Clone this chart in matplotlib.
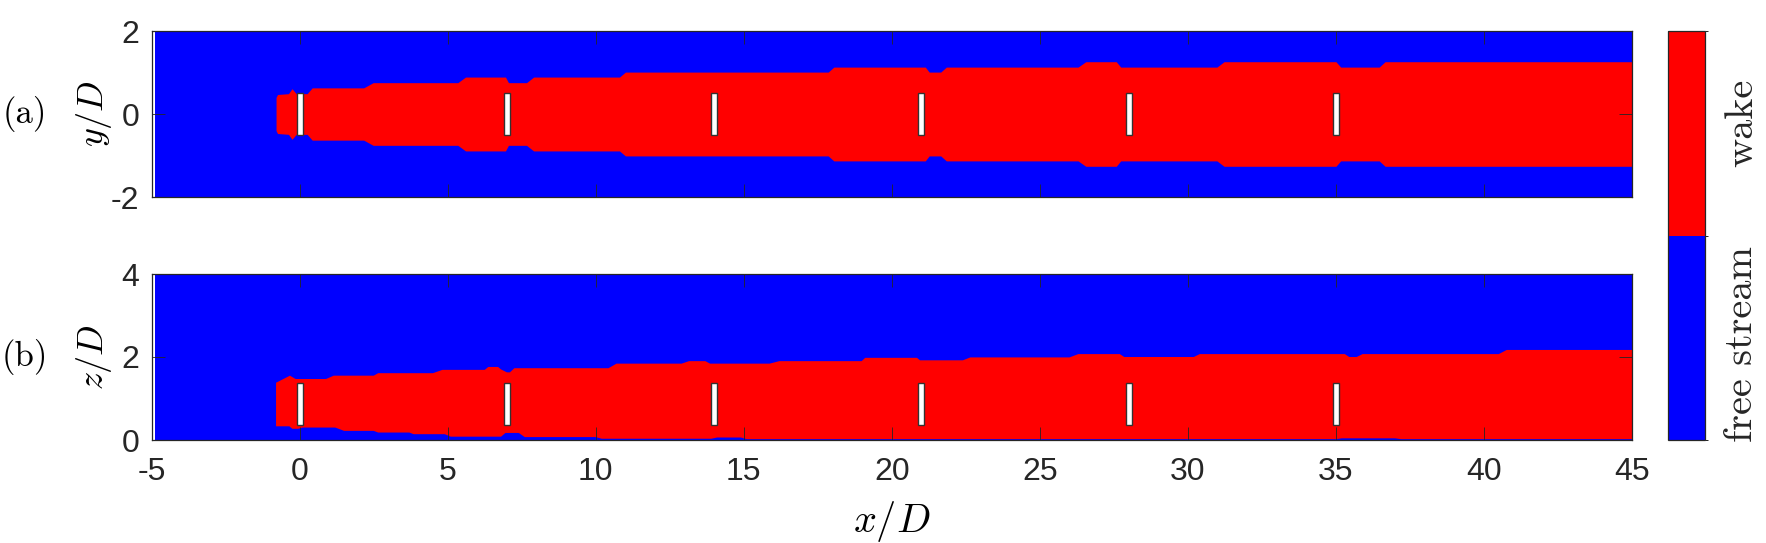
import numpy as np
import matplotlib
matplotlib.use("Agg")
import matplotlib as mpl
import matplotlib.pyplot as plt
from matplotlib.colors import ListedColormap, BoundaryNorm
from matplotlib.patches import Rectangle

plt.rcParams['mathtext.fontset'] = 'cm'
plt.rcParams['axes.unicode_minus'] = False
plt.rcParams['font.family'] = ['Liberation Sans', 'DejaVu Sans']

# ---------------- data ----------------
turbine_x = [0, 7, 14, 21, 28, 35]
rotor_d = 1.0
hub_z = 0.87
domain_x = [-4.9, 45.0]

# panel (a): wake half-width in y/D
xa = [-0.80, -0.75, -0.38, -0.26, -0.12, 0.25, 0.42, 2.16, 2.48, 5.34, 5.60, 6.95,
      7.05, 7.66, 7.90, 10.80, 11.00, 17.85, 18.04, 21.13, 21.26, 21.65, 21.84,
      26.29, 26.55, 27.58, 27.73, 30.98, 31.22, 35.00, 35.16, 36.46, 36.66, 45.0]
hwa = [0.40, 0.47, 0.49, 0.61, 0.49, 0.49, 0.63, 0.63, 0.755, 0.755, 0.89, 0.89,
       0.755, 0.755, 0.89, 0.89, 1.01, 1.01, 1.13, 1.13, 1.01, 1.01, 1.13,
       1.13, 1.26, 1.26, 1.13, 1.13, 1.26, 1.26, 1.13, 1.13, 1.26, 1.26]

# panel (b): wake upper edge in z/D
xb_top = [-0.80, -0.33, -0.14, 0.89, 1.15, 2.50, 2.65, 4.50, 4.82, 6.25, 6.37, 6.70,
          6.80, 7.00, 7.10, 7.25, 10.43, 10.70, 12.90, 13.15, 13.70, 13.86, 15.87,
          16.20, 18.98, 19.10, 20.85, 20.95, 22.40, 22.65, 26.00, 26.30, 27.70,
          27.85, 30.20, 30.40, 35.30, 35.45, 35.70, 35.90, 40.50, 40.77, 45.0]
zb_top = [1.38, 1.55, 1.47, 1.47, 1.55, 1.55, 1.61, 1.61, 1.69, 1.69, 1.76, 1.76,
          1.70, 1.63, 1.63, 1.73, 1.73, 1.84, 1.84, 1.90, 1.90, 1.84, 1.84,
          1.90, 1.90, 1.98, 1.98, 1.92, 1.92, 1.99, 1.99, 2.07, 2.07,
          2.00, 2.00, 2.07, 2.07, 2.00, 2.00, 2.07, 2.07, 2.17, 2.17]
# panel (b): wake lower edge in z/D
xb_bot = [-0.80, -0.35, -0.25, -0.05, 0.10, 1.20, 1.50, 2.50, 2.65, 3.70, 3.85, 4.90,
          5.10, 6.80, 6.95, 7.40, 7.60, 10.0, 10.2, 13.9, 14.1, 14.9, 15.1, 35.0,
          35.2, 37.0, 37.2, 45.0]
zb_bot = [0.33, 0.33, 0.27, 0.27, 0.30, 0.30, 0.22, 0.22, 0.18, 0.18, 0.14, 0.14,
          0.08, 0.08, 0.17, 0.17, 0.07, 0.07, 0.03, 0.03, 0.06, 0.06, 0.02, 0.02,
          0.04, 0.04, 0.02, 0.02]

states = ['free stream', 'wake']
state_ticks = [0.47, 1.55]
a_ticks = [-2, 0, 2]
b_ticks = [0, 2, 4]
x_ticks = list(range(-5, 50, 5))

# ---------------- style ----------------
BLUE = '#0000FF'
RED = '#FF0000'
AXC = '#262626'
W, H = 1766, 543
fig = plt.figure(figsize=(W / 100, H / 100), dpi=100)

L, R = 151.7, 1632.0
ax_a = fig.add_axes([L / W, 1 - 197 / H, (R - L) / W, 166 / H])
ax_b = fig.add_axes([L / W, 1 - 440 / H, (R - L) / W, 166 / H])
cax = fig.add_axes([1668 / W, 1 - 440 / H, 37 / W, 409 / H])

LABEL_FS = 29
YLABEL_FS = 26
YLABEL_X = (114 - L) / (R - L)

def style(ax, ylim, yticks):
    ax.set_xlim(-5, 45)
    ax.set_ylim(*ylim)
    ax.set_xticks(x_ticks)
    ax.set_yticks(yticks)
    ax.tick_params(direction='in', top=True, right=True, length=9.5, width=0.6,
                   color=AXC, labelcolor=AXC, labelsize=23)
    ax.tick_params(axis='x', pad=12)
    ax.tick_params(axis='y', pad=9)
    for s in ax.spines.values():
        s.set_color(AXC)
        s.set_linewidth(0.9)
        s.set_zorder(10)

# panel (a)
ax_a.fill_between(domain_x, -2, 2, color=BLUE, lw=0)
ax_a.fill_between(xa, -np.array(hwa), np.array(hwa), color=RED, lw=0)
for tx in turbine_x:
    ax_a.add_patch(Rectangle((tx - 0.1, -rotor_d / 2), 0.2, rotor_d,
                             facecolor='white', edgecolor='#333333', lw=1.0, zorder=5))
style(ax_a, (-2, 2), a_ticks)
ax_a.set_xticklabels([])
ax_a.set_ylabel(r'$y/D$', fontsize=YLABEL_FS)
ax_a.yaxis.set_label_coords(YLABEL_X, 0.5)
ax_a.text(25 / W, 1 - 114 / H, '(a)', transform=fig.transFigure, family='cmr10',
          fontsize=25, ha='center', va='center')

# panel (b)
ax_b.fill_between(domain_x, 0, 4, color=BLUE, lw=0)
ax_b.fill(np.concatenate([xb_top, xb_bot[::-1]]),
          np.concatenate([zb_top, zb_bot[::-1]]), color=RED, lw=0)
for tx in turbine_x:
    ax_b.add_patch(Rectangle((tx - 0.1, hub_z - rotor_d / 2), 0.2, rotor_d,
                             facecolor='white', edgecolor='#333333', lw=1.0, zorder=5))
style(ax_b, (0, 4), b_ticks)
ax_b.set_ylabel(r'$z/D$', fontsize=YLABEL_FS)
ax_b.yaxis.set_label_coords(YLABEL_X, 0.5)
ax_b.set_xlabel(r'$x/D$', fontsize=LABEL_FS)
ax_b.xaxis.set_label_coords(0.5, -(499 - 440) / 166)
ax_b.text(25 / W, 1 - 357 / H, '(b)', transform=fig.transFigure, family='cmr10',
          fontsize=25, ha='center', va='center')

# colorbar
cmap = ListedColormap([BLUE, RED])
norm = BoundaryNorm([0, 1, 2], 2)
cb = mpl.colorbar.ColorbarBase(cax, cmap=cmap, norm=norm, ticks=state_ticks,
                               orientation='vertical')
cb.set_ticklabels(states)
cax.tick_params(length=0, pad=14)
for t in cax.get_yticklabels():
    t.set_rotation(90)
    t.set_fontfamily('cmr10')
    t.set_fontsize(29)
    t.set_va('center')
    t.set_color(AXC)
cb.outline.set_edgecolor(AXC)
cb.outline.set_linewidth(0.9)

fig.savefig('out.png', dpi=100)
